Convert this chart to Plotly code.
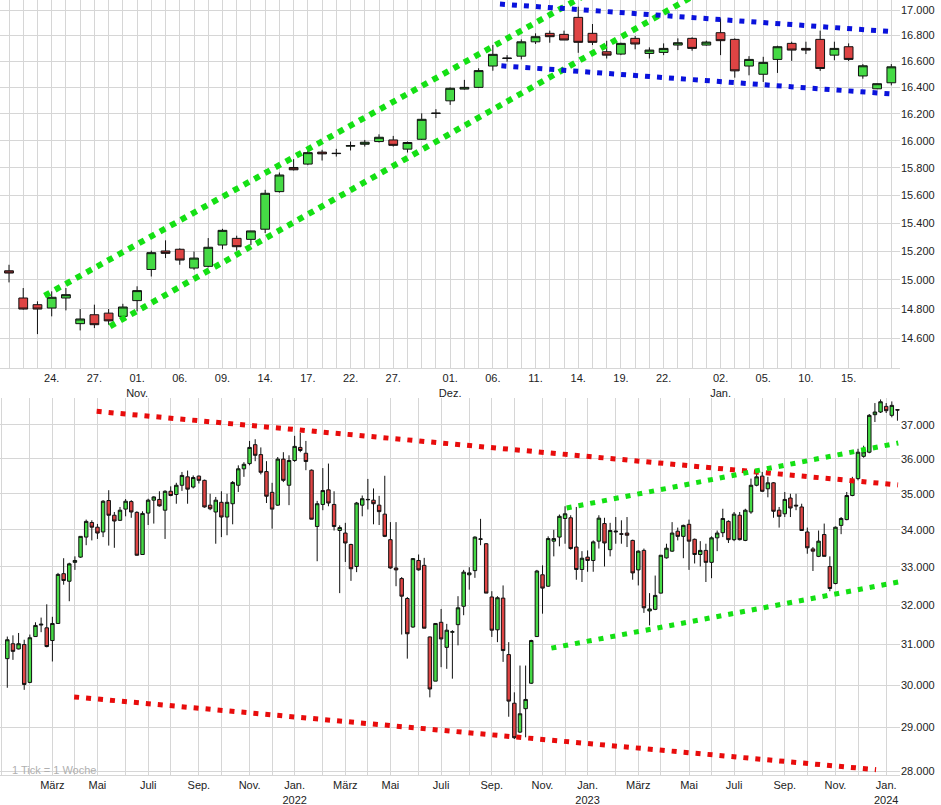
import math
import pandas as pd
import plotly.graph_objects as go

# ---------------- Top panel: daily candles ----------------
top_dates = [
    "2023-10-18", "2023-10-19", "2023-10-20", "2023-10-23", "2023-10-24", "2023-10-25", "2023-10-26",
    "2023-10-27", "2023-10-30", "2023-10-31",
    "2023-11-01", "2023-11-02", "2023-11-03", "2023-11-06", "2023-11-07", "2023-11-08", "2023-11-09",
    "2023-11-10", "2023-11-13", "2023-11-14", "2023-11-15", "2023-11-16", "2023-11-17", "2023-11-20",
    "2023-11-21", "2023-11-22", "2023-11-23", "2023-11-24", "2023-11-27", "2023-11-28", "2023-11-29",
    "2023-11-30",
    "2023-12-01", "2023-12-04", "2023-12-05", "2023-12-06", "2023-12-07", "2023-12-08", "2023-12-11",
    "2023-12-12", "2023-12-13", "2023-12-14", "2023-12-15", "2023-12-18", "2023-12-19", "2023-12-20",
    "2023-12-21", "2023-12-22", "2023-12-27", "2023-12-28", "2023-12-29",
    "2024-01-02", "2024-01-03", "2024-01-04", "2024-01-05", "2024-01-08", "2024-01-09", "2024-01-10",
    "2024-01-11", "2024-01-12", "2024-01-15", "2024-01-16", "2024-01-17", "2024-01-18",
]
top_open = [15210, 15064, 14875, 14829, 14806, 14875, 14699, 14760, 14771, 14749,
            14857, 15073, 15203, 15215, 15083, 15095, 15245, 15292, 15285, 15357,
            15627, 15803, 15828, 15916, 15905, 15960, 15974, 15994, 16006, 15938,
            16011, 16204, 16299, 16388, 16401, 16564, 16622, 16640, 16751, 16817,
            16809, 16942, 16817, 16674, 16656, 16778, 16661, 16669, 16726, 16778,
            16726, 16822, 16770, 16564, 16501, 16615, 16739, 16700, 16770, 16648,
            16713, 16488, 16390, 16436]
top_high = [15270, 15106, 14944, 14852, 14921, 14944, 14799, 14829, 14799, 14835,
            14956, 15205, 15278, 15222, 15199, 15294, 15360, 15311, 15345, 15640,
            15766, 15864, 15927, 15933, 15940, 15994, 16006, 16048, 16036, 15994,
            16205, 16236, 16401, 16458, 16547, 16727, 16648, 16770, 16817, 16838,
            16838, 17026, 16890, 16759, 16744, 16796, 16708, 16739, 16778, 16786,
            16760, 16934, 16778, 16640, 16635, 16721, 16752, 16752, 16838, 16752,
            16739, 16579, 16431, 16579]
top_low = [15190, 14983, 14795, 14628, 14749, 14790, 14653, 14669, 14692, 14744,
           14783, 15024, 15153, 15106, 15071, 15088, 15215, 15205, 15245, 15330,
           15620, 15781, 15820, 15854, 15883, 15928, 15957, 15987, 15957, 15913,
           16006, 16169, 16268, 16383, 16396, 16528, 16597, 16615, 16734, 16744,
           16765, 16666, 16726, 16622, 16648, 16693, 16622, 16648, 16687, 16682,
           16721, 16648, 16475, 16493, 16442, 16511, 16604, 16656, 16527, 16609,
           16602, 16467, 16388, 16416]
top_close = [15250, 15048, 14799, 14799, 14880, 14898, 14731, 14692, 14718, 14813,
             14926, 15191, 15186, 15139, 15153, 15229, 15349, 15233, 15345, 15615,
             15748, 15786, 15912, 15903, 15907, 15964, 15989, 16026, 15966, 15987,
             16160, 16206, 16394, 16401, 16529, 16654, 16625, 16751, 16791, 16791,
             16765, 16747, 16747, 16648, 16739, 16734, 16687, 16700, 16744, 16700,
             16749, 16760, 16527, 16615, 16592, 16713, 16687, 16687, 16545, 16700,
             16615, 16566, 16429, 16558]

top_tick_dates = ["2023-10-24", "2023-10-27", "2023-11-01", "2023-11-06", "2023-11-09", "2023-11-14",
                  "2023-11-17", "2023-11-22", "2023-11-27", "2023-12-01", "2023-12-06", "2023-12-11",
                  "2023-12-14", "2023-12-19", "2023-12-22", "2024-01-02", "2024-01-05", "2024-01-10",
                  "2024-01-15"]
top_tick_labels = ["24.", "27.", "01.<br>Nov.", "06.", "09.", "14.", "17.", "22.", "27.",
                   "01.<br>Dez.", "06.", "11.", "14.", "19.", "22.", "02.<br>Jan.", "05.", "10.", "15."]

top_y_ticks = [14600, 14800, 15000, 15200, 15400, 15600, 15800, 16000, 16200, 16400, 16600, 16800, 17000]
top_y_labels = ["14.600", "14.800", "15.000", "15.200", "15.400", "15.600", "15.800",
                "16.000", "16.200", "16.400", "16.600", "16.800", "17.000"]

# trend lines of the top panel (trading-day position, value)
top_green_upper_x = [3.5, 42.0]
top_green_upper_y = [14891, 17150]
top_green_lower_x = [8.1, 49.5]
top_green_lower_y = [14681, 17137]
top_blue_upper_x = [35.5, 63.1]
top_blue_upper_y = [17047, 16830]
top_blue_lower_x = [35.6, 63.1]
top_blue_lower_y = [16566, 16350]

# ---------------- Bottom panel: weekly candles ----------------
bot_first_week = "2021-01-04"
bot_open = [30650, 31020, 30890, 31000, 30070, 31200, 31490, 31420, 31100, 31530,
            32820, 32620, 33120, 33260, 33800, 34200, 34070, 33940, 34810, 34400,
            34260, 34570, 34780, 34480, 33330, 34460, 34820, 34840, 34540, 35070,
            34980, 35240, 35480, 35190, 35500, 35380, 34680, 34490, 34760, 34350,
            34720, 35240, 35710, 35860, 36410, 36120, 35630, 35040, 34680, 35990,
            35240, 35950, 36330, 36160, 35670, 34090, 34700, 35110, 34700, 33980,
            33910, 33600, 33010, 34680, 34830, 34820, 34680, 34430, 33730, 32970,
            32690, 32170, 31440, 33170, 33040, 31190, 30100, 31560, 30930, 31310,
            31500, 31970, 32790, 32900, 33740, 33620, 32210, 31370, 32180, 30750,
            29570, 28890, 29440, 30050, 31200, 32790, 32490, 33690, 33800, 34310,
            34330, 33530, 32930, 33260, 33170, 33690, 34170, 33460, 33940, 33890,
            33910, 33710, 32920, 33440, 31850, 31890, 32310, 33240, 33420, 33960,
            33820, 34150, 33740, 33330, 33440, 33120, 33780, 33920, 34230, 33730,
            34400, 33710, 34490, 35240, 35500, 35140, 35310, 34540, 34440, 34880,
            34680, 34630, 33940, 33480, 33280, 33870, 33010, 32560, 34120, 34280,
            34950, 35430, 36070, 36190, 37300, 37380, 37550, 37280, 37450]
bot_high = [31200, 31230, 31290, 31120, 31250, 31560, 31680, 32020, 31700, 32840,
            33230, 33110, 33280, 33820, 34280, 34260, 34160, 34820, 35100, 34490,
            34630, 34850, 34820, 34510, 34510, 34860, 34930, 35070, 35100, 35210,
            35310, 35620, 35660, 35520, 35520, 35400, 35000, 34910, 35070, 35000,
            35360, 35810, 35900, 36520, 36570, 36330, 35930, 35310, 36050, 36190,
            36100, 36670, 36760, 36520, 35690, 34800, 35730, 35860, 35070, 34120,
            34190, 33620, 34770, 34950, 35420, 35150, 34940, 35510, 34210, 34210,
            32730, 32210, 33230, 33330, 33240, 31200, 31540, 31900, 31520, 31360,
            32230, 32920, 32990, 33820, 34300, 33640, 32360, 32230, 32510, 31060,
            29830, 30480, 30480, 31120, 32920, 33040, 33820, 34000, 34420, 34650,
            34400, 34630, 33420, 33440, 33710, 34400, 34330, 34190, 34350, 34260,
            34350, 33730, 33440, 33490, 32310, 32770, 33310, 33620, 34210, 34060,
            34140, 34280, 33760, 33690, 33620, 33820, 33980, 34580, 34260, 34490,
            34490, 34580, 35430, 35590, 35620, 35480, 35330, 34630, 35050, 35000,
            35000, 34720, 34060, 33530, 33980, 34170, 33280, 34090, 34350, 35050,
            35480, 36290, 36380, 37320, 37650, 37760, 37650, 37700, 37470]
bot_low = [29940, 30620, 30880, 29890, 30050, 31190, 31310, 30930, 30580, 31520,
           32530, 32100, 32920, 33240, 33580, 33710, 33750, 33800, 33570, 33510,
           34240, 34370, 34330, 33300, 33320, 34130, 34170, 34640, 33750, 34930,
           34720, 35080, 34720, 35150, 35290, 34610, 34540, 33620, 33800, 33850,
           34150, 35050, 35480, 35810, 35930, 35550, 34740, 34030, 34660, 35330,
           34680, 35910, 36190, 35670, 34290, 33150, 34540, 34650, 33980, 32310,
           33130, 32630, 32860, 34370, 34560, 34150, 34130, 33800, 32950, 32490,
           31250, 30650, 31420, 32900, 31410, 29710, 30100, 30440, 30400, 30160,
           30980, 31740, 32400, 32710, 33580, 32310, 31190, 31060, 30570, 29250,
           28730, 28870, 28770, 30030, 31190, 31780, 32470, 33280, 33550, 33620,
           33460, 32660, 32600, 32870, 32870, 33490, 33010, 33280, 33620, 33620,
           33530, 32660, 32510, 31800, 31480, 31870, 32300, 33220, 33400, 33710,
           33230, 32920, 33090, 33010, 32600, 32700, 33420, 33800, 33640, 33690,
           33710, 33690, 34440, 35210, 35050, 34900, 34330, 34060, 34350, 34350,
           34540, 33980, 33350, 32890, 33260, 33280, 32360, 32540, 33880, 34260,
           34930, 35380, 36030, 36160, 37080, 37350, 37350, 37220, 37120]
bot_close = [31120, 30830, 31020, 30020, 31170, 31480, 31510, 30950, 31530, 32800,
             32640, 33080, 33170, 33820, 34230, 34070, 33910, 34790, 34400, 34240,
             34540, 34790, 34490, 33310, 34450, 34820, 34910, 34660, 35070, 34950,
             35240, 35520, 35130, 35460, 35380, 34630, 34580, 34820, 34350, 34760,
             35320, 35710, 35840, 36330, 36100, 35610, 34930, 34570, 35990, 35380,
             35950, 36360, 36240, 35920, 34290, 34720, 35090, 34740, 34090, 34060,
             33640, 32950, 34740, 34860, 34840, 34720, 34500, 33820, 32970, 32920,
             32230, 31270, 33220, 32920, 31410, 29910, 31530, 31140, 31360, 31320,
             31930, 32860, 32840, 33800, 33750, 32310, 31360, 32190, 30850, 29620,
             28760, 29320, 29660, 31100, 32890, 32440, 33760, 33760, 34370, 34440,
             33490, 32930, 33230, 33170, 33670, 34320, 33640, 33980, 33960, 33880,
             33850, 32840, 33420, 31930, 31900, 32250, 33310, 33500, 33910, 33820,
             34120, 33690, 33330, 33440, 33120, 33780, 33910, 34310, 33730, 34430,
             33730, 34540, 35240, 35480, 35070, 35310, 34510, 34370, 34840, 34600,
             34660, 33980, 33510, 33420, 33690, 33280, 32430, 34070, 34310, 34950,
             35400, 36190, 36200, 37280, 37380, 37690, 37420, 37580, 37440]

bot_months = pd.date_range("2021-01-01", "2024-01-01", freq="MS")
bot_month_labels = ["", "", "März", "", "Mai", "", "Juli", "", "Sep.", "", "Nov.", "",
                    "Jan.<br>2022", "", "März", "", "Mai", "", "Juli", "", "Sep.", "", "Nov.", "",
                    "Jan.<br>2023", "", "März", "", "Mai", "", "Juli", "", "Sep.", "", "Nov.", "",
                    "Jan.<br>2024"]

bot_y_ticks = [28000, 29000, 30000, 31000, 32000, 33000, 34000, 35000, 36000, 37000]
bot_y_labels = ["28.000", "29.000", "30.000", "31.000", "32.000", "33.000", "34.000",
                "35.000", "36.000", "37.000"]

bot_red_upper_x = ["2021-04-25", "2024-01-15 17:00"]
bot_red_upper_y = [37400, 35250]
bot_red_lower_x = ["2021-03-28", "2023-12-19 10:00"]
bot_red_lower_y = [29720, 28030]
bot_green_upper_x = ["2022-11-30", "2024-01-16"]
bot_green_upper_y = [34600, 36460]
bot_green_lower_x = ["2022-11-11", "2024-01-16"]
bot_green_lower_y = [30910, 32600]

# ---------------- styling ----------------
GREEN = "#45da45"
RED = "#df4444"
GRID = "#d6d6d6"
TXT = "#222222"
DOT_GREEN = "#14e014"
DOT_RED = "#e80c0c"
DOT_BLUE = "#0a12dc"
FONT = "Liberation Sans, Arial, sans-serif"

top_x = list(range(len(top_dates)))
top_ticktext = [""] * len(top_dates)
for d, lab in zip(top_tick_dates, top_tick_labels):
    top_ticktext[top_dates.index(d)] = lab

bot_x = pd.date_range(bot_first_week, periods=len(bot_open), freq="7D")
bot_tickvals = [(m - pd.Timedelta(days=m.weekday())).strftime("%Y-%m-%d") for m in bot_months]

fig = go.Figure()

candle_style = dict(
    increasing=dict(line=dict(color="#111111", width=1), fillcolor=GREEN),
    decreasing=dict(line=dict(color="#111111", width=1), fillcolor=RED),
    whiskerwidth=0, showlegend=False, hoverinfo="skip",
)

fig.add_trace(go.Candlestick(x=top_x, open=top_open, high=top_high, low=top_low, close=top_close,
                             xaxis="x", yaxis="y", **candle_style))
fig.add_trace(go.Candlestick(x=bot_x, open=bot_open, high=bot_high, low=bot_low, close=bot_close,
                             xaxis="x2", yaxis="y2", **candle_style))


def dotted(x, y, color, xa, ya, w=5, dash="5px,7px"):
    fig.add_trace(go.Scatter(x=x, y=y, mode="lines", xaxis=xa, yaxis=ya, showlegend=False,
                             hoverinfo="skip", line=dict(color=color, width=w, dash=dash)))


dotted(top_green_upper_x, top_green_upper_y, DOT_GREEN, "x", "y", 6, "6px,6px")
dotted(top_green_lower_x, top_green_lower_y, DOT_GREEN, "x", "y", 6, "6px,6px")
dotted(top_blue_upper_x, top_blue_upper_y, DOT_BLUE, "x", "y")
dotted(top_blue_lower_x, top_blue_lower_y, DOT_BLUE, "x", "y")
dotted(bot_red_upper_x, bot_red_upper_y, DOT_RED, "x2", "y2")
dotted(bot_red_lower_x, bot_red_lower_y, DOT_RED, "x2", "y2")
dotted(bot_green_upper_x, bot_green_upper_y, DOT_GREEN, "x2", "y2")
dotted(bot_green_lower_x, bot_green_lower_y, DOT_GREEN, "x2", "y2")

PLOT_H = 775.0
top_dom = [1 - 368 / PLOT_H, 1]
bot_dom = [0, (PLOT_H - 398) / PLOT_H]

axis_common = dict(showgrid=True, gridcolor=GRID, gridwidth=1, zeroline=False, ticks="",
                   tickfont=dict(size=11, color=TXT, family=FONT), automargin=False)

fig.update_layout(
    width=941, height=805,
    template="none",
    paper_bgcolor="white", plot_bgcolor="white",
    font=dict(family=FONT, size=11, color=TXT),
    margin=dict(l=0, r=41, t=0, b=805 - int(PLOT_H)),
    showlegend=False,
    hovermode=False,
    boxgap=0.12,
    xaxis=dict(domain=[0, 1], anchor="y", type="linear", range=[0.3675, 63.61],
               tickmode="array", tickvals=top_x, ticktext=top_ticktext, tickangle=0,
               rangeslider=dict(visible=False), showline=True, linecolor=GRID, **axis_common),
    yaxis=dict(domain=top_dom, anchor="x", side="right", type="log",
               range=[math.log10(14400), math.log10(17079)],
               tickmode="array", tickvals=top_y_ticks, ticktext=top_y_labels, **axis_common),
    xaxis2=dict(domain=[0, 1], anchor="y2", type="date",
                range=["2020-12-25 22:00", "2024-01-18 04:00"],
                tickmode="array", tickvals=bot_tickvals, ticktext=bot_month_labels, tickangle=0,
                rangeslider=dict(visible=False), showline=True, linecolor=GRID, **axis_common),
    yaxis2=dict(domain=bot_dom, anchor="x2", side="right", type="log",
                range=[math.log10(27910), math.log10(37804)],
                tickmode="array", tickvals=bot_y_ticks, ticktext=bot_y_labels, **axis_common),
    annotations=[dict(text="1 Tick = 1 Woche", xref="paper", yref="paper", x=10 / 900,
                      y=(PLOT_H - 770) / PLOT_H, xanchor="left", yanchor="middle", showarrow=False,
                      font=dict(size=11, color="#b0b0b0", family=FONT))],
)

fig.write_html("out.html", config={"displayModeBar": False},
               post_script="document.body.style.margin='0px';document.body.style.overflow='hidden';")
